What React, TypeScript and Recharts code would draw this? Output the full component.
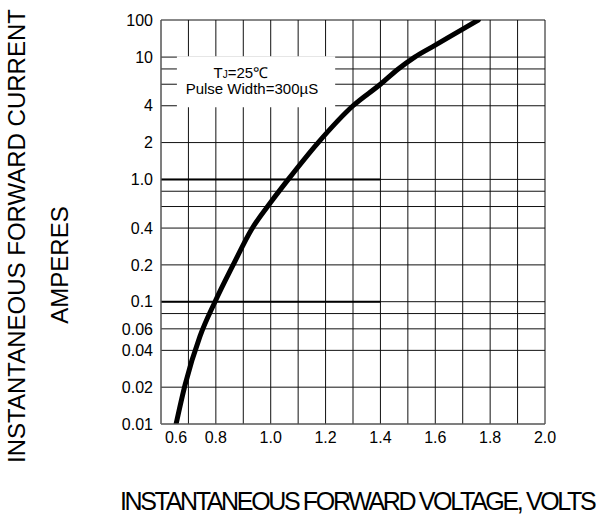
import React from 'react';
import { LineChart, Line, XAxis, YAxis, CartesianGrid, ReferenceArea, ReferenceLine } from 'recharts';

// Forward voltage (V) and current (A)
const voltage = [0.655, 0.688, 0.742, 0.797, 0.863, 0.93, 1.0, 1.064, 1.173, 1.3, 1.4, 1.465, 1.525, 1.6, 1.7, 1.757];
const current = [0.01, 0.021, 0.052, 0.1, 0.2, 0.39, 0.65, 1.0, 2.0, 4.0, 6.0, 8.0, 10, 21, 57, 100];

// Grid values and tick labels
const xGridValues = [0.6, 0.7, 0.8, 0.9, 1.0, 1.1, 1.2, 1.3, 1.4, 1.5, 1.6, 1.7, 1.8, 1.9, 2.0];
const xTickLabels = ['0.6', '', '0.8', '', '1.0', '', '1.2', '', '1.4', '', '1.6', '', '1.8', '', '2.0'];
const yGridValues = [0.01, 0.02, 0.04, 0.06, 0.08, 0.1, 0.2, 0.4, 0.6, 0.8, 1, 2, 4, 6, 8, 10, 100];
const yTickLabels = ['0.01', '0.02', '0.04', '0.06', '', '0.1', '0.2', '0.4', '', '', '1.0', '2', '4', '', '', '10', '100'];

// Note box (blank area of the grid holding the test conditions)
const noteBoxX = [0.658, 1.235];
const noteBoxI = [4, 10];

const FONT = '"Liberation Sans", Arial, sans-serif';

// The chart's log axis: 3 full decades, top decade (10..100) compressed
const TOP_DECADE = 37 / 122;
const pos = (v: number) => {
  const l = Math.log10(v);
  return l <= 1 ? l : 1 + (l - 1) * TOP_DECADE;
};

const data = voltage.map((v, i) => ({ v, pos: pos(current[i]) }));
const yTicks = yGridValues.map(pos);
const yMin = pos(0.01);
const yMax = pos(100);
const boxLow = pos(noteBoxI[0]) - 0.012;
const boxHigh = pos(noteBoxI[1]) + 0.006;

const XTick = (props: any) => {
  const { x, y, payload } = props;
  const idx = xGridValues.findIndex((g) => Math.abs(g - payload.value) < 1e-6);
  const label = idx >= 0 ? xTickLabels[idx] : '';
  if (!label) return null;
  const shift = idx === 0 ? 15 : 0;
  return (
    <text x={x + shift} y={y} dy="0.71em" textAnchor="middle" fontSize={16} fontFamily={FONT} fill="#000">
      {label}
    </text>
  );
};

const YTick = (props: any) => {
  const { x, y, payload } = props;
  const idx = yTicks.findIndex((g) => Math.abs(g - payload.value) < 1e-6);
  const label = idx >= 0 ? yTickLabels[idx] : '';
  if (!label) return null;
  return (
    <text x={x} y={y} dy="0.355em" textAnchor="end" fontSize={16} fontFamily={FONT} fill="#000">
      {label}
    </text>
  );
};

const YTitle = (props: any) => {
  const vb = props.viewBox || { x: 0, y: 20 };
  const cy1 = vb.y + 216;
  const cy2 = vb.y + 245;
  return (
    <g>
      <text
        x={25}
        y={cy1}
        transform={`rotate(-90 25 ${cy1})`}
        textAnchor="middle"
        fontSize={24}
        fontFamily={FONT}
        fill="#000"
      >
        INSTANTANEOUS FORWARD CURRENT
      </text>
      <text
        x={68}
        y={cy2}
        transform={`rotate(-90 68 ${cy2})`}
        textAnchor="middle"
        fontSize={24}
        fontFamily={FONT}
        fill="#000"
      >
        AMPERES
      </text>
    </g>
  );
};

const XTitle = (props: any) => {
  const vb = props.viewBox || { x: 161, y: 424 };
  return (
    <text x={120} y={vb.y + 86} fontSize={25} letterSpacing={-2.35} fontFamily={FONT} fill="#000">
      INSTANTANEOUS FORWARD VOLTAGE, VOLTS
    </text>
  );
};

const LegendNote = (props: any) => {
  const vb = props.viewBox || { x: 177, y: 56, width: 158 };
  return (
    <g fontFamily={FONT} fill="#000" fontSize={15}>
      <text x={vb.x + 64} y={vb.y + 22} textAnchor="middle">
        <tspan>T</tspan>
        <tspan fontSize={10}>J</tspan>
        <tspan>=25℃</tspan>
      </text>
      <text x={vb.x + 75} y={vb.y + 38} textAnchor="middle">
        Pulse Width=300µS
      </text>
    </g>
  );
};

export default function App() {
  return (
    <div style={{ position: 'absolute', left: 0, top: 0, width: 610, height: 515, background: '#fff' }}>
      <LineChart width={610} height={515} data={data} margin={{ top: 20, right: 65, bottom: 0, left: 0 }}>
        <CartesianGrid stroke="#111" strokeWidth={1} />
        <XAxis
          dataKey="v"
          type="number"
          domain={[0.6, 2.0]}
          ticks={xGridValues}
          interval={0}
          tickLine={false}
          axisLine={{ stroke: '#777' }}
          tick={<XTick />}
          height={91}
          label={{ content: <XTitle /> }}
        />
        <YAxis
          type="number"
          domain={[yMin, yMax]}
          ticks={yTicks}
          interval={0}
          tickLine={false}
          axisLine={{ stroke: '#777' }}
          tick={<YTick />}
          width={161}
          allowDataOverflow
          label={{ content: <YTitle /> }}
        />
        <ReferenceArea
          x1={noteBoxX[0]}
          x2={noteBoxX[1]}
          y1={boxLow}
          y2={boxHigh}
          fill="#fff"
          fillOpacity={1}
          stroke="none"
          label={{ content: <LegendNote /> }}
        />
        <ReferenceLine
          segment={[{ x: 0.6, y: pos(1) }, { x: 1.4, y: pos(1) }]}
          stroke="#000"
          strokeWidth={2}
          ifOverflow="visible"
        />
        <ReferenceLine
          segment={[{ x: 0.6, y: pos(0.1) }, { x: 1.4, y: pos(0.1) }]}
          stroke="#000"
          strokeWidth={2}
          ifOverflow="visible"
        />
        <Line
          type="monotone"
          dataKey="pos"
          stroke="#000"
          strokeWidth={5}
          strokeLinecap="round"
          dot={false}
          isAnimationActive={false}
        />
      </LineChart>
    </div>
  );
}
